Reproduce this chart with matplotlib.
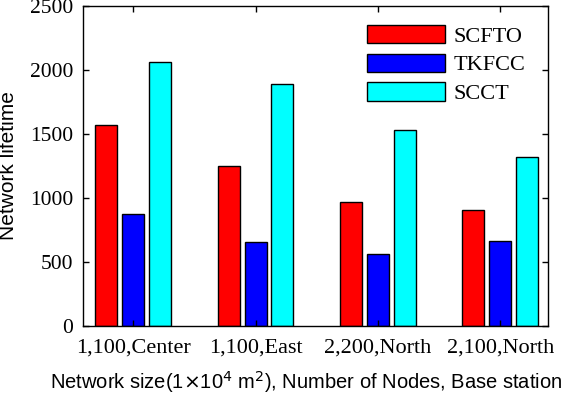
import numpy as np
import matplotlib
matplotlib.use('Agg')
import matplotlib.pyplot as plt

# data
groups = ['1,100,Center', '1,100,East', '2,200,North', '2,100,North']
scfto = [1570, 1250, 970, 910]
tkfcc = [875, 655, 565, 665]
scct = [2060, 1890, 1530, 1320]

fig = plt.figure(figsize=(5.82, 3.94), dpi=100)
ax = fig.add_axes([83/582, 1-326/394, 465/582, 320/394])

x = np.arange(1, len(groups)+1)
w = 0.18
step = 0.22
ax.bar(x-step, scfto, w, color='#ff0000', edgecolor='black', linewidth=1, label='SCFTO')
ax.bar(x, tkfcc, w, color='#0000ff', edgecolor='black', linewidth=1, label='TKFCC')
ax.bar(x+step, scct, w, color='#00ffff', edgecolor='black', linewidth=1, label='SCCT')

ax.set_xlim(0.59, 4.39)
ax.set_ylim(0, 2500)
ax.set_yticks([0, 500, 1000, 1500, 2000, 2500])
ax.set_xticks(x)
ax.set_xticklabels(groups, family='Liberation Serif', fontsize=16)
for t in ax.get_yticklabels():
    t.set_family('Liberation Serif')
    t.set_fontsize(15.5)
ax.tick_params(direction='in', top=True, right=True, length=4, width=1)
ax.tick_params(axis='x', pad=9)
ax.tick_params(axis='y', pad=7)
for s in ax.spines.values():
    s.set_linewidth(1)

ax.set_ylabel('Network lifetime', family='Liberation Sans', fontsize=15)
ax.yaxis.set_label_coords(-65/465, 0.5)
fig.text(50/582, 1-382/394, r'Network size(1$\times$10$^4$ m$^2$), Number of Nodes, Base station',
         family='Liberation Sans', fontsize=14.5, ha='left', va='center')

ax.legend(loc='upper left', bbox_to_anchor=((367-83)/465, (326-25)/320), frameon=False,
          prop={'family': 'Liberation Serif', 'size': 16}, handlelength=3.5,
          handleheight=0.9, labelspacing=0.3, handletextpad=0.4, borderpad=0,
          borderaxespad=0)

fig.savefig('out.png', dpi=100)
